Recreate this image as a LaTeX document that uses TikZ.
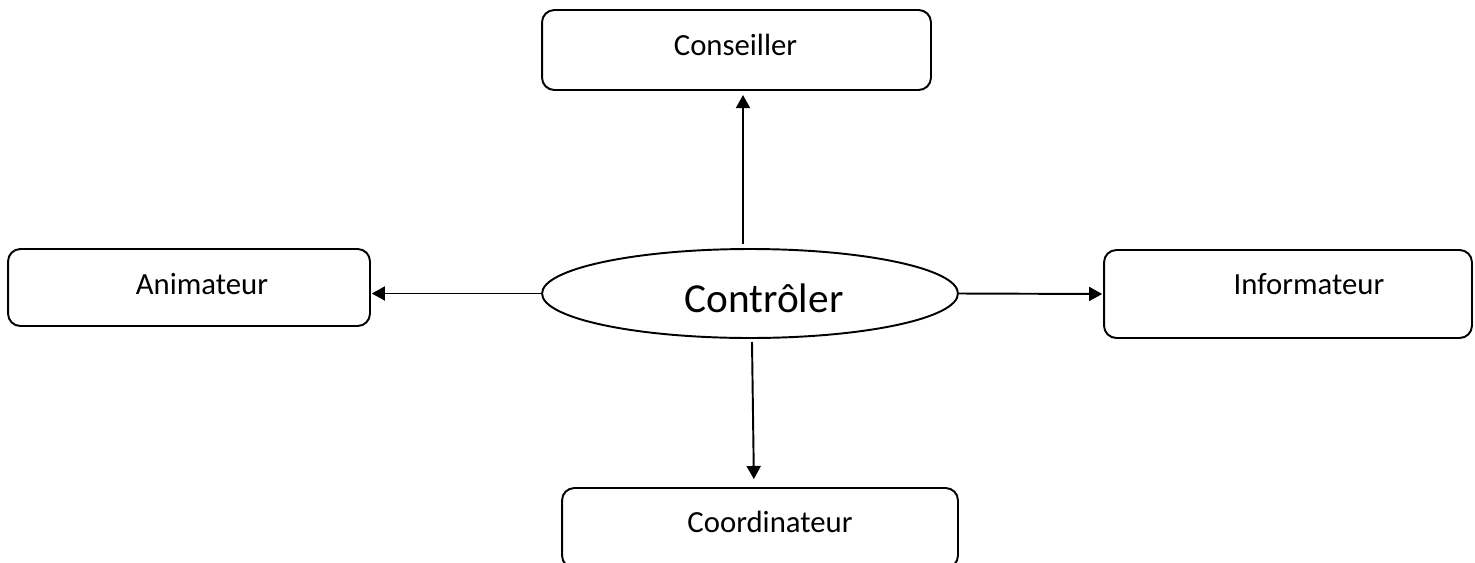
\documentclass[tikz,border=0pt]{standalone}
\usepackage{fontspec}
\setmainfont{Carlito}
\usetikzlibrary{arrows.meta,shapes.geometric,calc}
\begin{document}
\begin{tikzpicture}[x=0.02cm,y=-0.02cm,
  box/.style={draw,line width=1.1pt,rounded corners=7pt,inner sep=0pt},
  ell/.style={draw,line width=1.1pt,ellipse,inner sep=0pt},
  lbl/.style={anchor=base,inner sep=0pt,font=\fontsize{17.5}{20}\selectfont},
  arr/.style={line width=1.1pt,-{Triangle[length=7.5pt,width=8pt]}}]
\useasboundingbox (0,0) rectangle (1475,562);
\node[box,minimum width=7.78cm,minimum height=1.6cm] (cons) at (736.5,50) {};
\node[box,minimum width=7.24cm,minimum height=1.54cm] (anim) at (189,287.5) {};
\node[box,minimum width=7.36cm,minimum height=1.76cm] (info) at (1288,294) {};
\node[box,minimum width=7.92cm,minimum height=1.6cm] (coord) at (760,528) {};
\node[ell,minimum width=8.32cm,minimum height=1.78cm] (ctrl) at (750,293.5) {};
\node[lbl] (tcons) at (735.5,55) {Conseiller};
\node[lbl] (tanim) at (202,294) {Animateur};
\node[lbl] (tinfo) at (1309,294) {Informateur};
\node[lbl] (tcoord) at (770,532) {Coordinateur};
\node[lbl,font=\fontsize{23.5}{28}\selectfont] (tctrl) at (764,312) {Contrôler};
\coordinate (u1) at (743,244);
\coordinate (d1) at (752,342);
\draw[arr,shorten >=2.3pt] (u1) -- (cons.south -| u1);
\draw[arr,shorten >=0.5pt] (ctrl.west) -- (anim.east |- ctrl.west);
\draw[arr,shorten >=0.5pt] (ctrl.east) -- (info.west);
\draw[arr,shorten >=4.5pt] (d1) -- ($(coord.north)+(-6,0)$);
\end{tikzpicture}
\end{document}
